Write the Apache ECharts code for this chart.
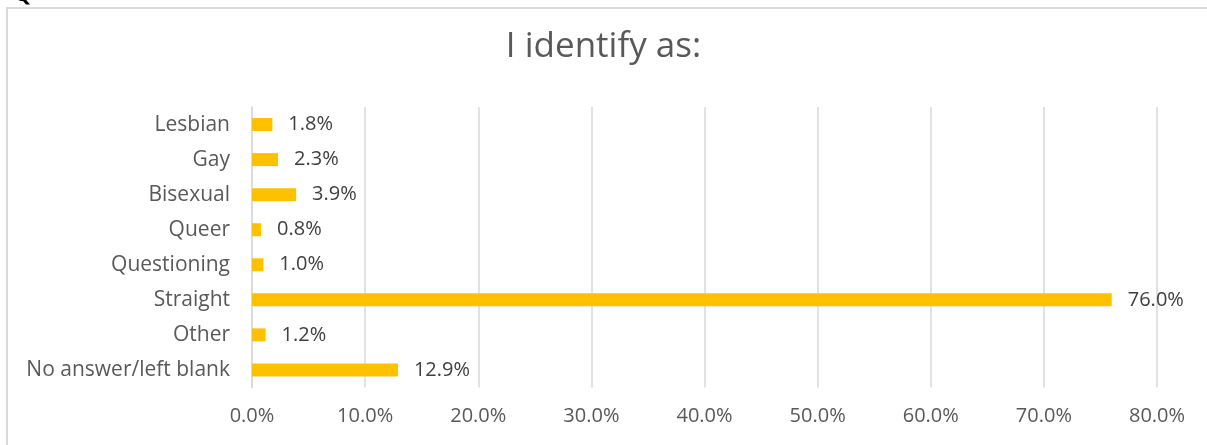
<!DOCTYPE html>
<html><head><meta charset="utf-8">
<script src="https://cdn.jsdelivr.net/npm/echarts@6/dist/echarts.min.js"></script>
<style>html,body{margin:0;padding:0;background:#fff;}#c{width:1207px;height:445px;}</style>
</head><body><div id="c"></div>
<script>
const categories = ["Lesbian","Gay","Bisexual","Queer","Questioning","Straight","Other","No answer/left blank"];
const values = [1.8, 2.3, 3.9, 0.8, 1.0, 76.0, 1.2, 12.9];
const titleText = "I identify as:";
const FONT = "Open Sans";
const chart = echarts.init(document.getElementById('c'));
chart.setOption({
  animation: false,
  title: { text: titleText, left: 'center', top: 25, textStyle: { fontFamily: FONT, fontSize: 35, fontWeight: 'normal', color: '#595959' } },
  graphic: [
    { type: 'rect', shape: { x: 7, y: 8, width: 1220, height: 460 }, style: { fill: 'none', stroke: '#d9d9d9', lineWidth: 2 } },
    { type: 'text', left: 14, top: -16, style: { text: 'Q', font: 'bold 22px Open Sans', fill: '#000' } }
  ],
  grid: { left: 252, right: 50, top: 107, bottom: 57.5, containLabel: false },
  xAxis: {
    type: 'value', min: 0, max: 80, interval: 10,
    axisLine: { show: false }, axisTick: { show: false },
    splitLine: { lineStyle: { color: '#d9d9d9', width: 1.5 } },
    axisLabel: { formatter: v => v.toFixed(1) + '%', fontFamily: FONT, fontSize: 20, color: '#595959', margin: 19 }
  },
  yAxis: {
    type: 'category', data: categories, inverse: true,
    axisLine: { show: true, lineStyle: { color: '#d9d9d9', width: 1.5 } }, axisTick: { show: false },
    axisLabel: { fontFamily: FONT, fontSize: 21, color: '#595959', margin: 22 }
  },
  series: [{
    type: 'bar', data: values, barWidth: 13, itemStyle: { color: '#ffc000' },
    label: { show: true, position: 'right', distance: 16, formatter: p => p.value.toFixed(1) + '%', fontFamily: FONT, fontSize: 20, color: '#404040' }
  }]
});
</script></body></html>
